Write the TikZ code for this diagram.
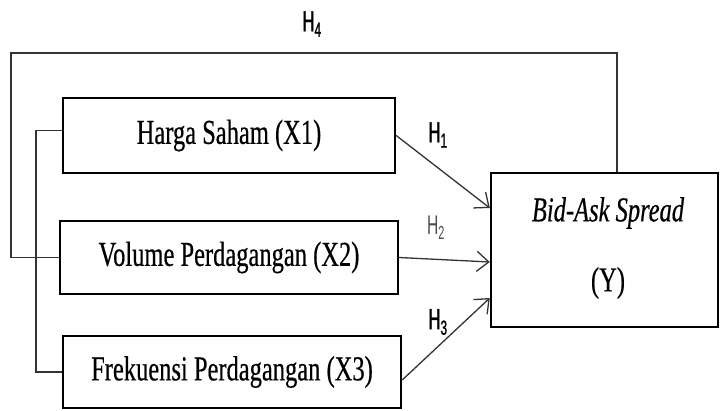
\documentclass[tikz,border=0pt]{standalone}
\usepackage{fontspec}
\usepackage{xcolor}
\usepackage{tikz}
\usetikzlibrary{arrows.meta}
\usetikzlibrary{calc}

\newfontfamily\boxfont[FakeStretch=0.70,FakeBold=0.4]{Liberation Serif}
\newfontfamily\hfont[FakeStretch=0.58]{Liberation Sans}
\newfontfamily\hboldfont[FakeStretch=0.58,FakeBold=1.2]{Liberation Sans}
\tikzset{
  varbox/.style={draw=black, line width=2.4pt, inner sep=0pt,
    font=\boxfont\fontsize{35}{38}\selectfont},
  link/.style={draw=black!80, line width=1.3pt},
  hyp/.style={font=\hboldfont\fontsize{29}{30}\selectfont},
  tip/.style={-{Straight Barb[length=12pt,width=20pt,line width=1.3pt]}}
}

\begin{document}
\begin{tikzpicture}[x=1pt,y=-1pt]
\useasboundingbox (0,0) rectangle (720,410);

\node[varbox, minimum width=332pt, minimum height=75pt] (x1) at (229,135.5) {Harga Saham (X1)};
\node[varbox, minimum width=338pt, minimum height=73pt] (x2) at (229,257.5) {Volume Perdagangan (X2)};
\node[varbox, minimum width=338pt, minimum height=72pt] (x3) at (232,372) {Frekuensi Perdagangan (X3)};
\node[varbox, minimum width=227pt, minimum height=154pt] (y) at (604.5,250) {};
\node[font=\boxfont\itshape\fontsize{35}{38}\selectfont] (ytop) at (608,213) {Bid-Ask Spread};
\node[font=\boxfont\fontsize{35}{38}\selectfont] (ybot) at (608,283) {(Y)};

% hypothesis arrows
\draw[link, tip] (x1.east) -- ([yshift=42pt]y.west);
\draw[link, tip] (x2.east) -- ([yshift=-12pt]y.west);
\draw[link, tip] ([yshift=-8pt]x3.east) -- ([yshift=-48pt]y.west);

% simultaneous path H4
\coordinate (h4r) at (617,53);
\coordinate (h4l) at (11,53);
\draw[link] (y.north -| h4r) -- (h4r) -- (h4l) |- (x2.west);

% bracket joining X1 and X3
\coordinate (brk) at (36,0);
\draw[link] ([yshift=5pt]x1.west) -- ([yshift=5pt]x1.west -| brk) |- (x3.west);

\node[hyp] (h1) at (438,135) {H\textsubscript{1}};
\node[hyp, text=black!70, font=\hfont\fontsize{27}{30}\selectfont] (h2) at (436,228) {H\textsubscript{2}};
\node[hyp] (h3) at (438,322) {H\textsubscript{3}};
\node[hyp] (h4) at (312,24) {H\textsubscript{4}};

\end{tikzpicture}
\end{document}
